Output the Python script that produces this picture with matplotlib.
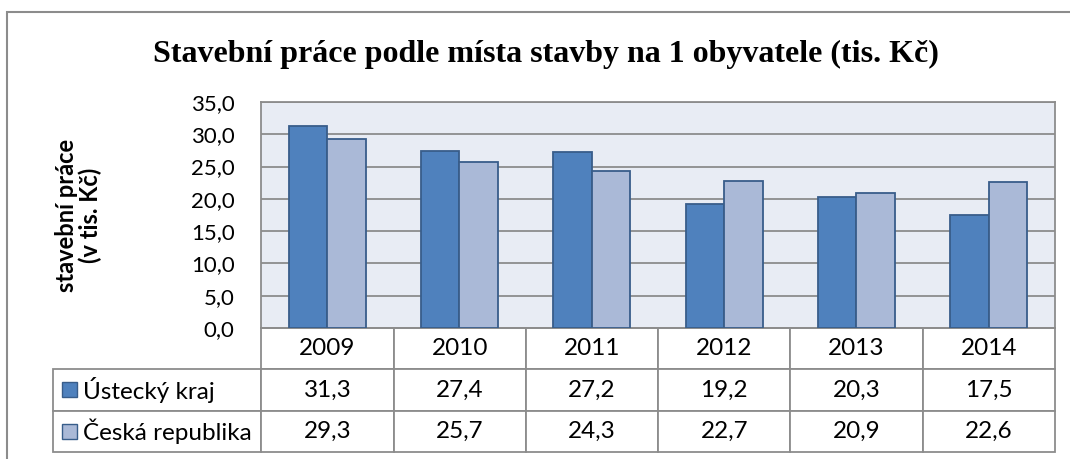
import numpy as np
import matplotlib
matplotlib.use("Agg")
import matplotlib.pyplot as plt
from matplotlib.patches import Rectangle

# data
years = ["2009", "2010", "2011", "2012", "2013", "2014"]
series_names = ["Ústecký kraj", "Česká republika"]
ustecky = [31.3, 27.4, 27.2, 19.2, 20.3, 17.5]
cr = [29.3, 25.7, 24.3, 22.7, 20.9, 22.6]
yticks = [0, 5, 10, 15, 20, 25, 30, 35]

dark = "#4F81BD"
light = "#AAB9D7"
edge = "#385D8A"
grid = "#8C8C8C"

plt.rcParams['font.family'] = ['Lato', 'DejaVu Sans']

W, H = 1070, 459
fig = plt.figure(figsize=(W / 100, H / 100), dpi=100)

# outer chart frame (only top and left visible in the crop)
fig.patches.append(Rectangle((7 / W, -0.2), 1.2, 1 - 12 / H + 0.2, transform=fig.transFigure,
                             fill=False, edgecolor="#8C8C8C", linewidth=1.5))

ax = fig.add_axes([261 / W, 1 - 328 / H, (1055 - 261) / W, (328 - 102) / H])
ax.set_facecolor("#E8ECF4")

x = np.arange(len(years))
bw = 0.29
ax.bar(x - bw / 2, ustecky, bw, color=dark, edgecolor=edge, linewidth=1.3, zorder=3)
ax.bar(x + bw / 2, cr, bw, color=light, edgecolor=edge, linewidth=1.3, zorder=3)

ax.set_xlim(-0.5, len(years) - 0.5)
ax.set_ylim(0, 35)
ax.set_yticks(yticks)
ax.set_yticklabels([f"{v:.1f}".replace(".", ",") for v in yticks], fontsize=16)
ax.tick_params(axis='y', length=0, pad=19)
ax.set_xticks([])
ax.yaxis.grid(True, color=grid, linewidth=1.3, zorder=0)
ax.set_axisbelow(True)
for s in ax.spines.values():
    s.set_color(grid)
    s.set_linewidth(1.3)

ax.set_ylabel("stavební práce\n(v tis. Kč)", fontsize=17, fontweight='bold',
              linespacing=1.0)
ax.yaxis.set_label_coords(-(261 - 102) / (1055 - 261), 0.5)

fig.text(0.5 * (152 + 940) / W, 1 - 54 / H,
         "Stavební práce podle místa stavby na 1 obyvatele (tis. Kč)",
         family="Liberation Serif", fontweight='bold', fontsize=23, ha='center', va='center')

# data table under the plot
ax_w = 1055 - 261
ax_h = 328 - 102
fmt = lambda v: f"{v:.1f}".replace(".", ",")
cell_text = [[series_names[0]] + [fmt(v) for v in ustecky],
             [series_names[1]] + [fmt(v) for v in cr]]
col_w = [208] + [132] * len(years)
tbl = ax.table(cellText=cell_text, colLabels=[""] + years,
               colWidths=[c / sum(col_w) for c in col_w],
               cellLoc='center',
               bbox=[-(261 - 53) / ax_w, -(452 - 328) / ax_h, (1055 - 53) / ax_w, (452 - 328) / ax_h])
tbl.auto_set_font_size(False)
for (r, c), cell in tbl.get_celld().items():
    cell.set_edgecolor(grid)
    cell.set_linewidth(1.3)
    cell.get_text().set_fontsize(17.5)
    if c == 0:
        cell.get_text().set_ha('left')
        cell._loc = 'left'
        cell.PAD = 30 / 208
    if r == 0 and c == 0:
        cell.visible_edges = ''

# legend keys in the table
for i, col in enumerate([dark, light]):
    yc = 1 - (389.5 + 42 * i) / H
    fig.patches.append(Rectangle((62 / W, yc - 7.5 / H), 15 / W, 15 / H, transform=fig.transFigure,
                                 facecolor=col, edgecolor=edge, linewidth=1.0))

fig.savefig("out.png", dpi=100)
